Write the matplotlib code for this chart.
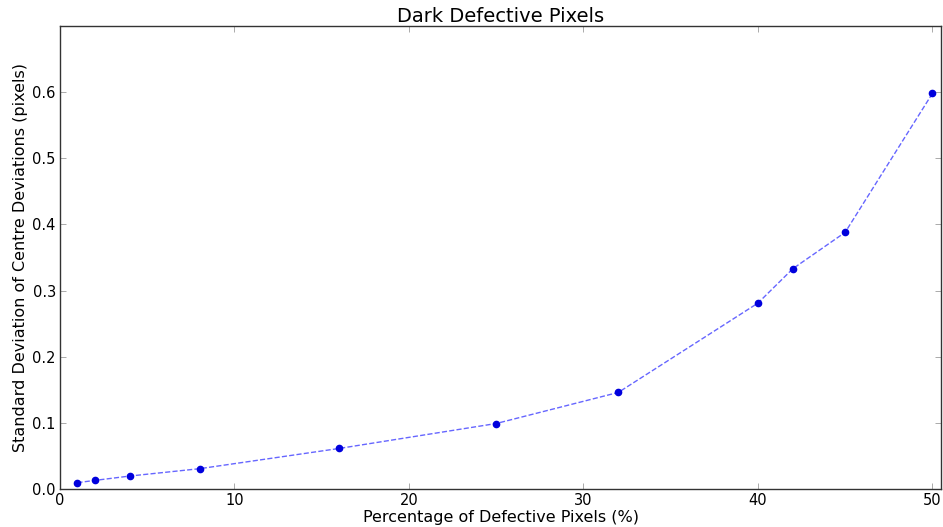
import matplotlib
matplotlib.use("Agg")
import matplotlib.pyplot as plt

defective_pct = [1, 2, 4, 8, 16, 25, 32, 40, 42, 45, 50]
std_dev = [0.0096, 0.013, 0.0196, 0.0307, 0.0613, 0.099, 0.146, 0.281, 0.333, 0.388, 0.598]
x_ticks = [0, 10, 20, 30, 40, 50]
y_ticks = [0.0, 0.1, 0.2, 0.3, 0.4, 0.5, 0.6]

plt.rcParams['font.family'] = ['DejaVu Sans']
fig = plt.figure(figsize=(9.43, 5.27), dpi=100)
ax = fig.add_axes([0.0636, 0.0721, 0.9344, 0.8786])

ax.plot(defective_pct, std_dev, linestyle='--', color='blue', alpha=0.6, linewidth=1)
ax.plot(defective_pct, std_dev, linestyle='none', marker='o', color='#0000dd',
        markersize=4.5, markeredgecolor='#0000dd')

ax.set_xlim(0, 50.5)
ax.set_ylim(0, 0.7)
ax.set_xticks(x_ticks)
ax.set_yticks(y_ticks)
ax.set_yticklabels([f"{v:.1f}" for v in y_ticks])
ax.tick_params(direction='in', top=True, right=True, labelsize=10.5, length=4,
               width=0.5, color='#888888', pad=3)
for s in ax.spines.values():
    s.set_linewidth(1)
    s.set_color('#333333')

ax.set_title("Dark Defective Pixels", fontsize=14, pad=3)
ax.set_xlabel("Percentage of Defective Pixels (%)", fontsize=11.5, labelpad=1)
ax.set_ylabel("Standard Deviation of Centre Deviations (pixels)", fontsize=11.5, labelpad=3)

fig.savefig("out.png", dpi=100)
